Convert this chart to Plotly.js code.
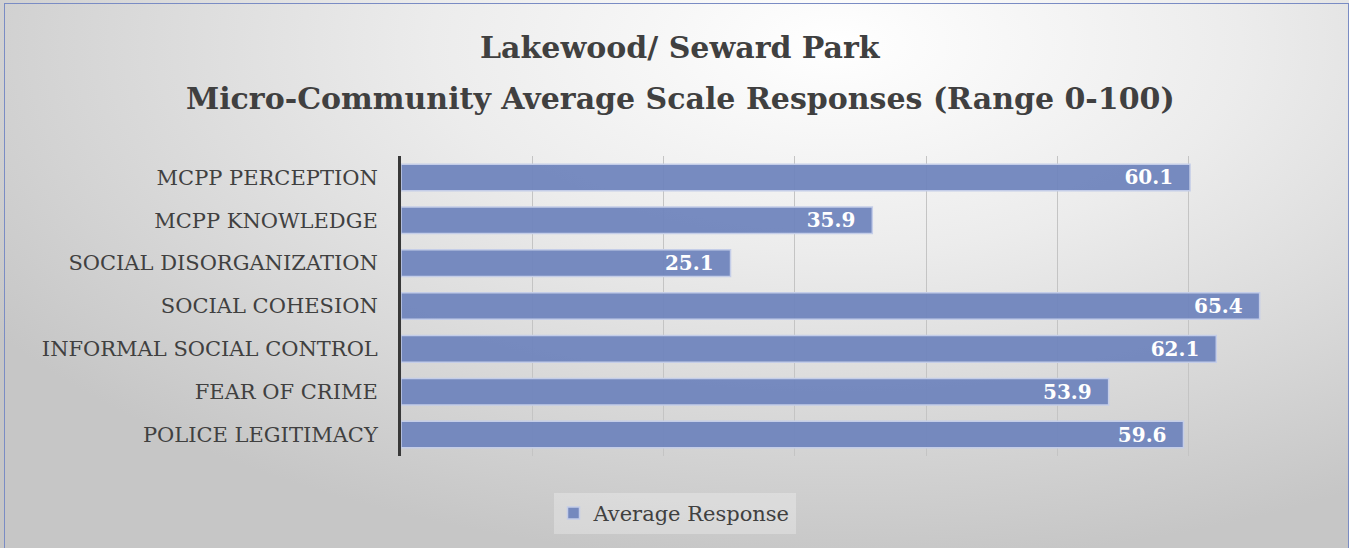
<!DOCTYPE html>
<html>
<head>
<meta charset="utf-8">
<script src="https://cdn.plot.ly/plotly-3.0.1.min.js"></script>
<style>
  html, body { margin: 0; padding: 0; width: 1349px; height: 548px; overflow: hidden; }
  #wrap { position: relative; width: 1349px; height: 548px;
    background: radial-gradient(ellipse 75% 95% at 62% 8%, #ffffff 0%, #ececec 40%, #d6d6d6 75%, #c6c6c6 100%); }
  #chart { position: absolute; left: 0; top: 0; width: 1349px; height: 548px; }
  #frame { position: absolute; left: 4px; top: 3px; width: 1345px; height: 560px;
    border: 1.5px solid #7a8cc4; pointer-events: none; box-sizing: border-box; }
</style>
</head>
<body>
<div id="wrap"><div id="chart"></div><div id="frame"></div></div>
<script>
const categories = ["MCPP PERCEPTION", "MCPP KNOWLEDGE", "SOCIAL DISORGANIZATION", "SOCIAL COHESION",
  "INFORMAL SOCIAL CONTROL", "FEAR OF CRIME", "POLICE LEGITIMACY"];
const averageResponse = [60.1, 35.9, 25.1, 65.4, 62.1, 53.9, 59.6];
const seriesName = "Average Response";
const titleLines = ["Lakewood/ Seward Park", "Micro-Community Average Scale Responses (Range 0-100)"];

const serif = "'Book Antiqua', 'Palatino Linotype', Palatino, 'DejaVu Serif', serif";

const trace = {
  type: "bar",
  orientation: "h",
  name: seriesName,
  y: categories,
  x: averageResponse,
  text: averageResponse.map(v => v.toFixed(1) + "\u00a0\u00a0"),
  textposition: "inside",
  insidetextanchor: "end",
  constraintext: "none",
  textangle: 0,
  textfont: { family: serif, size: 20, color: "#ffffff", weight: "bold" },
  marker: { color: "rgba(112,133,189,0.95)", line: { color: "#c4cde8", width: 1.5 } },
  hoverinfo: "x+y"
};

const layout = {
  width: 1349, height: 548,
  paper_bgcolor: "rgba(0,0,0,0)",
  plot_bgcolor: "rgba(0,0,0,0)",
  margin: { l: 401, r: 29, t: 156, b: 92 },
  annotations: [
    { text: "<b>" + titleLines[0] + "</b>", xref: "paper", yref: "paper",
      x: 0.5, y: 1, xanchor: "center", yanchor: "middle", showarrow: false,
      font: { family: serif, size: 30, color: "#404040" } },
    { text: "<b>" + titleLines[1] + "</b>", xref: "paper", yref: "paper",
      x: 0.5, y: 1, xanchor: "center", yanchor: "middle", showarrow: false,
      font: { family: serif, size: 30, color: "#404040" } }
  ],
  bargap: 0.38,
  xaxis: {
    range: [0, 70], dtick: 10, showticklabels: false,
    showgrid: true, gridcolor: "#c4c4c4", gridwidth: 1.2,
    zeroline: false, showline: false, fixedrange: true
  },
  yaxis: {
    autorange: "reversed", type: "category",
    tickfont: { family: serif, size: 21, color: "#404040" },
    showline: true, linecolor: "#383838", linewidth: 3,
    ticks: "", ticklabelstandoff: 16, showgrid: false, fixedrange: true
  },
  showlegend: true,
  legend: {
    orientation: "h", x: 0.5, xanchor: "center", xref: "container",
    y: 0.026, yanchor: "bottom", yref: "container",
    bgcolor: "rgba(255,255,255,0.28)",
    font: { family: serif, size: 21, color: "#404040" },
    itemwidth: 30
  },
  bargroupgap: 0
};

// position title annotations in container pixels
const plotH = 548 - 156 - 92;
function paperY(px) { return (548 - 92 - px) / plotH; }
function paperX(px) { return (px - 401) / (1349 - 401 - 29); }
layout.annotations[0].y = paperY(47);
layout.annotations[1].y = paperY(98);
layout.annotations[0].x = paperX(680);
layout.annotations[1].x = paperX(680);

Plotly.newPlot("chart", [trace], layout, { displayModeBar: false, staticPlot: true });
</script>
</body>
</html>
